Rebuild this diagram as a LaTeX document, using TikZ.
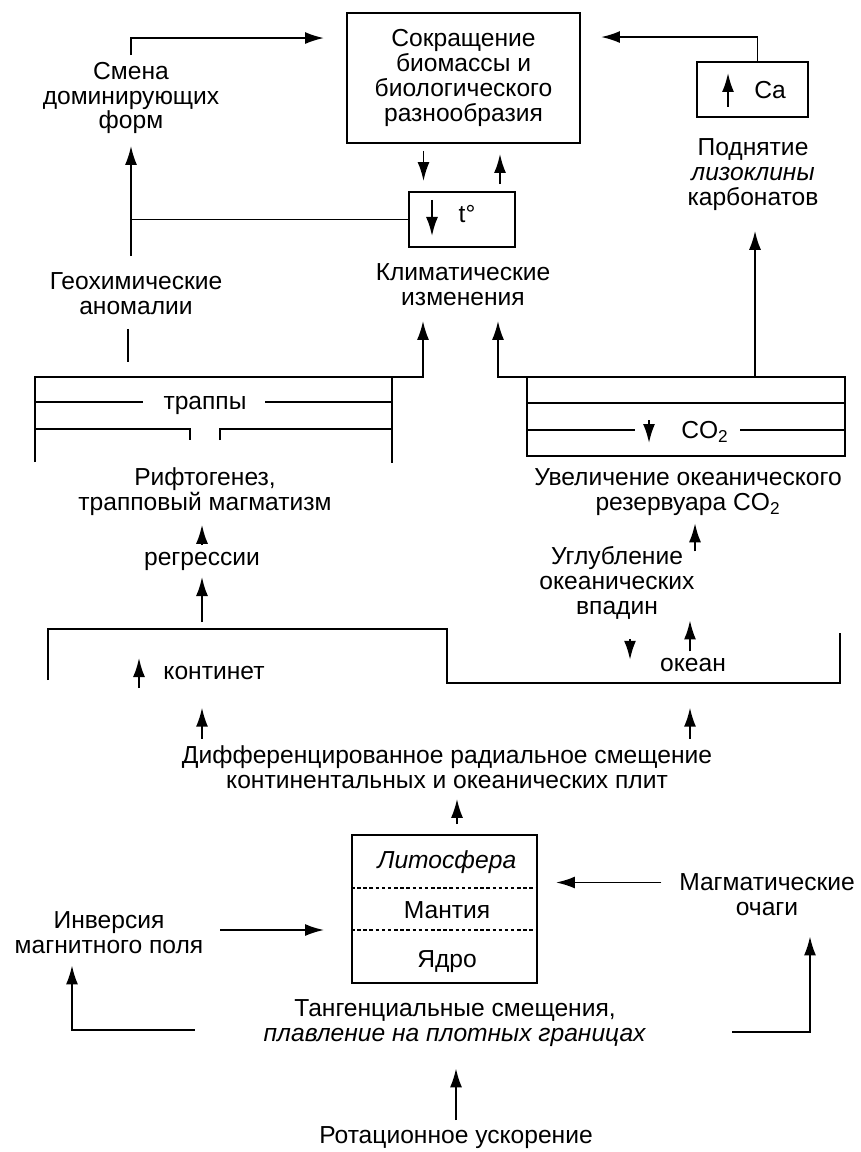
\documentclass[tikz,border=0pt]{standalone}
\usepackage{fontspec}
\setmainfont{Liberation Sans}
\usetikzlibrary{arrows.meta,calc}

\begin{document}
\begin{tikzpicture}[
    line width=1.1pt,
    every node/.style={font=\fontsize{14}{14.2}\selectfont, align=center},
    box/.style={draw, inner sep=0pt},
    arr/.style={-{Latex[length=0.38cm,width=0.24cm]}}
]
\useasboundingbox (0,0) rectangle (17.2,-23.04);
\draw
    (9.27,-1.56)   node[box,minimum width=4.66cm,minimum height=2.6cm] (bio) {Сокращение\\биомассы и\\биологического\\разнообразия}
    (2.62,-1.96)   node (smena) {Смена\\доминирующих\\форм}
    (15.05,-1.79)  node[box,minimum width=2.22cm,minimum height=1.1cm] (cabox) {}
    (15.4,-1.8)    node (ca) {Ca}
    (15.06,-3.5)   node (podn) {Поднятие\\\textit{лизоклины}\\карбонатов}
    (9.24,-4.39)   node[box,minimum width=2.12cm,minimum height=1.1cm] (tbox) {}
    (9.34,-4.28)   node (t) {t°}
    (9.26,-5.7)    node (klim) {Климатические\\изменения}
    (2.72,-5.88)   node (geo) {Геохимические\\аномалии}
    (4.1,-8.1)     node (trappy) {траппы}
    (14.1,-8.64)   node (co2) {CO\textsubscript{2}}
    (4.1,-9.84)    node (rift) {Рифтогенез,\\трапповый магматизм}
    (13.76,-9.84)  node (uvel) {Увеличение океанического\\резервуара CO\textsubscript{2}}
    (4.04,-11.22)  node (regr) {регрессии}
    (12.34,-11.66) node (uglub) {Углубление\\океанических\\впадин}
    (4.28,-13.46)  node (kont) {континет}
    (13.86,-13.3)  node (okean) {океан}
    (8.94,-15.34)  node (differ) {Дифференцированное радиальное смещение\\континентальных и океанических плит}
    (8.89,-18.18)  node[box,minimum width=3.7cm,minimum height=2.96cm] (earth) {}
    (8.94,-17.24)  node (lito) {\textit{Литосфера}}
    (8.94,-18.2)   node (mant) {Мантия}
    (8.94,-19.24)  node (yadro) {Ядро}
    (15.34,-17.9)  node (magm) {Магматические\\очаги}
    (2.18,-18.66)  node (inv) {Инверсия\\магнитного поля}
    (9.1,-20.46)   node (tang) {Тангенциальные смещения,\\\textit{плавление на плотных границах}}
    (9.12,-22.76)  node (rot) {Ротационное ускорение};
\coordinate (trapne) at (7.84,-7.54);
\coordinate (co2nw) at (10.54,-7.54);
\coordinate (co2top) at (15.1,-7.54);
\coordinate (kontop) at (4.04,-12.58);
% top row
\draw[arr] (smena.north) |- ($(bio.north west)+(-0.44,-0.52)$);
\draw[arr] ([xshift=0.1cm]cabox.north) |- ($(bio.north east)+(0.4,-0.5)$);
\draw[arr] ($(ca)+(-0.84,-0.34)$) -- ++(0,0.68);
\draw[arr] ($(t)+(-0.7,0.28)$) -- ++(0,-0.72);
\draw[arr,shorten <=0.14cm,shorten >=0.2cm] ([xshift=-0.8cm]bio.south) -- ([xshift=-0.8cm]bio.south |- tbox.north);
\draw[arr,shorten <=0.14cm,shorten >=0.2cm] ([xshift=0.76cm]tbox.north) -- ([xshift=0.76cm]tbox.north |- bio.south);
\draw[arr,shorten <=0.2cm,shorten >=0.1cm] (smena.south |- geo.north) -- (smena.south);
\draw (tbox.west) -- (tbox.west -| smena.south);
\draw[arr,shorten >=0.26cm] (co2top) -- (co2top |- podn.south);
% traps
\draw (0.7,-9.24) -- (0.7,-7.54) -- (trapne) -- (7.84,-9.26);
\draw (0.7,-8.04) -- (2.86,-8.04) (5.3,-8.04) -- (7.84,-8.04);
\draw (0.7,-8.58) -- (3.8,-8.58) -- (3.8,-8.8) (4.4,-8.8) -- (4.4,-8.58) -- (7.84,-8.58);
\draw[arr,shorten >=0.16cm] (trapne) -| ([xshift=-0.8cm]klim.south);
\draw[shorten <=0.14cm,shorten >=0.3cm] ([xshift=-0.16cm]geo.south) -- ([xshift=-0.16cm]geo.south |- trapne);
% co2
\draw (co2nw) rectangle (16.9,-9.12);
\draw (10.54,-8.06) -- (16.9,-8.06);
\draw (10.54,-8.6) -- (12.7,-8.6) (14.8,-8.6) -- (16.9,-8.6);
\draw[arr] ($(co2)+(-1.12,0.24)$) -- ++(0,-0.46);
\draw[arr,shorten >=0.16cm] (co2nw) -| ([xshift=0.7cm]klim.south);
% middle
\draw[arr,shorten >=0.04cm] (regr.north) -- (regr.north |- rift.south);
\draw[arr,shorten <=0.14cm] (kontop) -- (regr.south);
\draw[arr] ($(uglub.north)+(1.56,-0.23)$) -- ++(0,0.56);
\draw[arr] ([xshift=0.26cm,yshift=-0.25cm]uglub.south) -- ++(0,-0.42);
\draw[arr] ([xshift=-0.06cm]okean.north) -- ++(0,0.62);
% step
\draw (0.96,-13.6) -- (0.96,-12.58) -- (8.94,-12.58) -- (8.94,-13.66) -- (16.8,-13.66) -- (16.8,-12.66);
\draw[arr] ($(kont)+(-1.5,-0.3)$) -- ++(0,0.6);
\draw[arr] ([xshift=-4.9cm]differ.north) -- ++(0,0.62);
\draw[arr] ([xshift=4.86cm]differ.north) -- ++(0,0.62);
% earth
\draw[dashed,line width=0.7pt,dash pattern=on 2pt off 1.5pt] ($(earth.north west)+(0,-1.08)$) -- ($(earth.north east)+(0,-1.08)$);
\draw[dashed,line width=0.7pt,dash pattern=on 2pt off 1.5pt] ($(earth.north west)+(0,-1.92)$) -- ($(earth.north east)+(0,-1.92)$);
\draw[arr,shorten <=0.2cm,shorten >=0.07cm] ([xshift=0.25cm]earth.north) -- ([xshift=0.25cm]earth.north |- differ.south);
\draw[arr,shorten >=0.36cm] ([xshift=-0.22cm,yshift=0.25cm]magm.west) -- ([yshift=0.25cm]magm.west -| earth.east);
\draw[arr,shorten >=0.54cm] ([xshift=0.2cm,yshift=0.06cm]inv.east) -- ([yshift=0.06cm]inv.east -| earth.west);
% bottom
\draw[arr,shorten >=0.09cm] ($(tang.west)+(-1.24,-0.14)$) -| ([xshift=-0.74cm]inv.south);
\draw[arr,shorten >=0.27cm] ($(tang.east)+(1.58,-0.18)$) -| ([xshift=0.86cm]magm.south);
\draw[arr,shorten >=0.3cm] (rot.north) -- (rot.north |- tang.south);
\end{tikzpicture}
\end{document}
